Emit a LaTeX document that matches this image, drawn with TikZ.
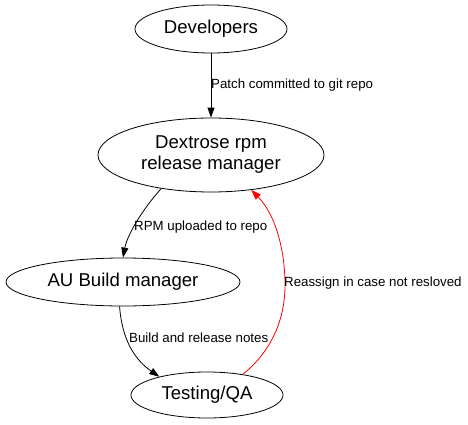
\documentclass[tikz,border=0pt]{standalone}
\usepackage{fontspec}
\setmainfont{Liberation Sans}
\usetikzlibrary{shapes.geometric,arrows.meta}
\begin{document}
\begin{tikzpicture}[x=1pt,y=1pt,
  state/.style={draw=black,line width=0.8pt,ellipse,inner sep=0pt,align=center,
    font=\fontsize{18.6}{21}\selectfont},
  edgelabel/.style={anchor=west,inner sep=0pt,font=\fontsize{13.3}{15}\selectfont},
  flow/.style={line width=0.8pt,-{Triangle[length=10pt,width=7pt]}}]
\useasboundingbox (0,0) rectangle (468,424);
\node[state,minimum width=152pt,minimum height=48pt] (dev) at (211,395) {Developers};
\node[state,minimum width=226pt,minimum height=74pt] (dex) at (211,269) {Dextrose rpm\\release manager};
\node[state,minimum width=234pt,minimum height=48pt] (au) at (123,142) {AU Build manager};
\node[state,minimum width=152pt,minimum height=46pt] (qa) at (207,29) {Testing/QA};
\draw[flow] (dev.south) -- (dex.north);
\node[edgelabel] (l1) at (211,339) {Patch committed to git repo};
\draw[flow] (dex.214) .. controls (141,213) and (127,188) .. (au.north);
\node[edgelabel] (l2) at (134,197) {RPM uploaded to repo};
\draw[flow] (au.262) .. controls (122,84) and (135,64) .. (qa.159);
\node[edgelabel] (l3) at (129,86) {Build and release notes};
\draw[flow,red] (qa.30) .. controls (268,70) and (285,100) .. (285,139)
  .. controls (285,175) and (275,210) .. (dex.319);
\node[edgelabel] (l4) at (284,141) {Reassign in case not resloved};
\end{tikzpicture}
\end{document}
